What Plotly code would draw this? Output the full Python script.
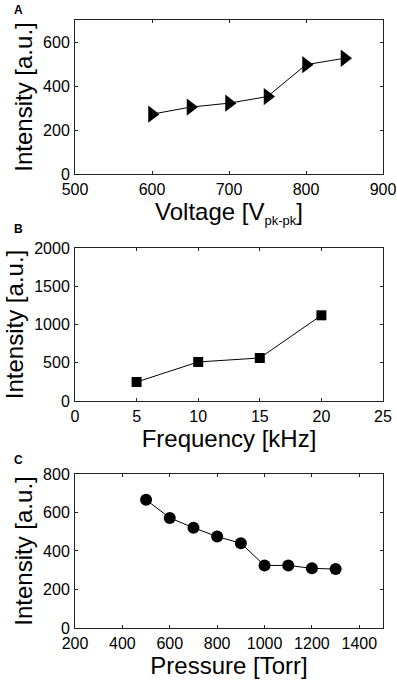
import plotly.graph_objects as go

voltage = [600, 650, 700, 750, 800, 850]
intensity_v = [272, 304, 322, 352, 497, 526]

frequency = [5, 10, 15, 20]
intensity_f = [248, 510, 562, 1120]

pressure = [500, 600, 700, 800, 900, 1000, 1100, 1200, 1300]
intensity_p = [666, 572, 521, 475, 440, 325, 325, 310, 306]

FONT = "Liberation Sans, Arial, sans-serif"

fig = go.Figure()
fig.add_trace(go.Scatter(x=voltage, y=intensity_v, mode="lines+markers",
                         line=dict(color="black", width=1),
                         marker=dict(symbol="triangle-right", size=15, color="black"),
                         xaxis="x", yaxis="y"))
fig.add_trace(go.Scatter(x=frequency, y=intensity_f, mode="lines+markers",
                         line=dict(color="black", width=1),
                         marker=dict(symbol="square", size=10, color="black"),
                         xaxis="x2", yaxis="y2"))
fig.add_trace(go.Scatter(x=pressure, y=intensity_p, mode="lines+markers",
                         line=dict(color="black", width=1),
                         marker=dict(symbol="circle", size=12, color="black"),
                         xaxis="x3", yaxis="y3"))

ax = dict(showline=True, linecolor="#222", linewidth=1, mirror="ticks",
          ticks="inside", ticklen=3, tickcolor="#222", showgrid=False,
          zeroline=False, automargin=False,
          tickfont=dict(size=16, family=FONT, color="black"))
tfont = dict(size=24, family=FONT, color="black")

def xa(rng, dtick, title, anchor):
    d = dict(ax)
    d.update(range=rng, dtick=dtick, domain=[0, 1], anchor=anchor,
             ticklabelstandoff=1,
             title=dict(text=title, font=tfont, standoff=1))
    return d

def ya(rng, dtick, dom, anchor):
    d = dict(ax)
    d.update(range=rng, dtick=dtick, domain=dom, anchor=anchor,
             ticklabelstandoff=1,
             title=dict(text="Intensity [a.u.]", font=tfont, standoff=3))
    return d

fig.update_layout(
    width=397, height=680, showlegend=False,
    paper_bgcolor="white", plot_bgcolor="white",
    margin=dict(l=75, r=14, t=20, b=52),
    xaxis=xa([500, 900], 100,
             "Voltage [V<sub><span style='font-size:13px'>pk-pk</span></sub>]", "y"),
    yaxis=ya([0, 700], 200, [0.7467, 1.0], "x"),
    xaxis2=xa([0, 25], 5, "Frequency [kHz]", "y2"),
    yaxis2=ya([0, 2000], 500, [0.3734, 0.625], "x2"),
    xaxis3=xa([200, 1500], 200, "Pressure [Torr]", "y3"),
    yaxis3=ya([0, 800], 200, [0.0, 0.2533], "x3"),
)

for lbl, ypx in [("A", 10), ("B", 229), ("C", 460)]:
    fig.add_annotation(text="<b>%s</b>" % lbl, xref="paper", yref="paper",
                       x=(12 - 75) / 308, y=(628 - ypx) / 608,
                       xanchor="left", yanchor="middle", showarrow=False,
                       font=dict(size=12, family=FONT, color="black"))

fig.write_html("out.html", config={"displayModeBar": False},
               post_script="document.body.style.margin='0';document.body.style.overflow='hidden';")
